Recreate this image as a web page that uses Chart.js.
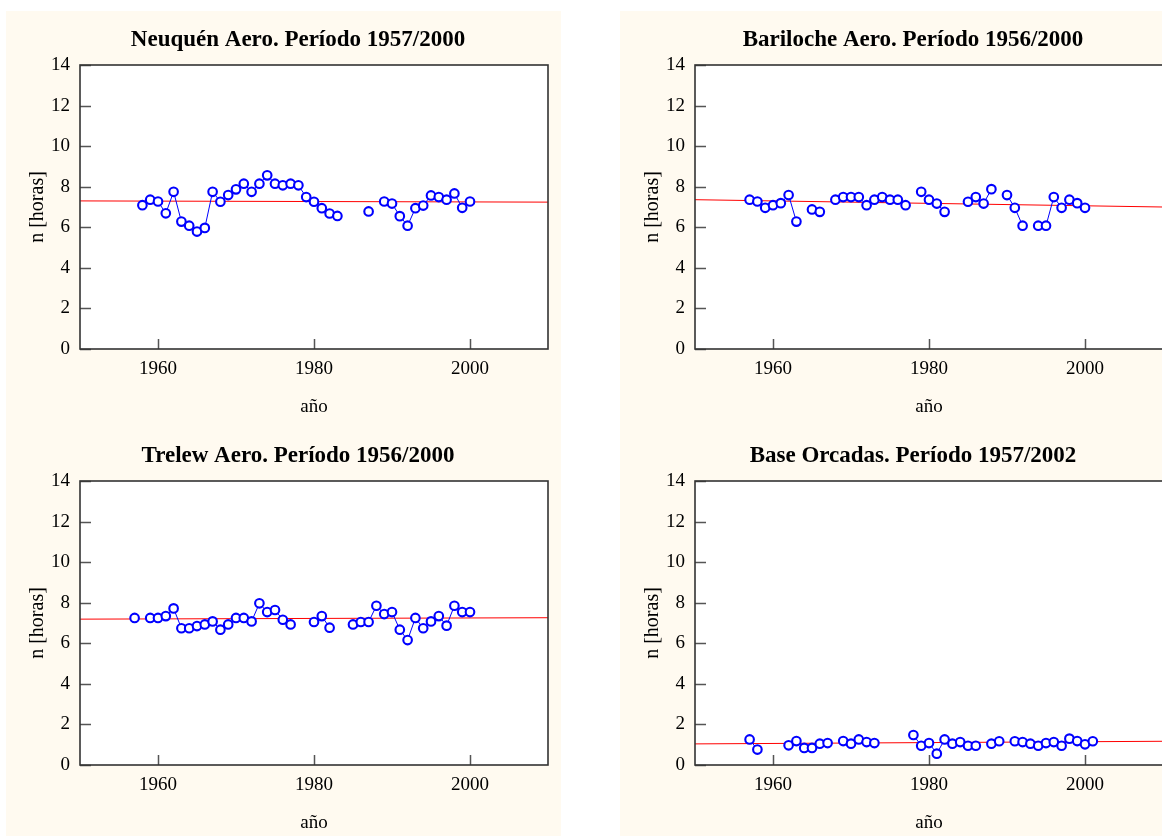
<!DOCTYPE html>
<html>
<head>
<meta charset="utf-8">
<script src="https://cdn.jsdelivr.net/npm/chart.js@4.4.1/dist/chart.umd.min.js"></script>
<style>
  html, body { margin: 0; padding: 0; background: #ffffff; overflow: hidden; }
  body { width: 1162px; height: 837px; position: relative; }
  .cream { position: absolute; background: #fffaf0; top: 11px; height: 825px; }
  canvas { position: absolute; }
</style>
</head>
<body>
<div class="cream" style="left:6px;width:555px"></div>
<div class="cream" style="left:620px;width:542px"></div>
<canvas id="c_neuquen" width="555" height="412" style="left:6px;top:11px"></canvas>
<canvas id="c_bariloche" width="555" height="412" style="left:621px;top:11px"></canvas>
<canvas id="c_trelew" width="555" height="412" style="left:6px;top:427px"></canvas>
<canvas id="c_orcadas" width="555" height="412" style="left:621px;top:427px"></canvas>
<script>
// datos (null = año sin dato, corta la linea)
const neuquenYears = [1958,1959,1960,1961,1962,1963,1964,1965,1966,1967,1968,1969,1970,1971,1972,1973,1974,1975,1976,1977,1978,1979,1980,1981,1982,1983,1985,1987,1988,1989,1990,1991,1992,1993,1994,1995,1996,1997,1998,1999,2000];
const neuquenHours = [7.09,7.36,7.27,6.69,7.75,6.28,6.08,5.79,5.97,7.75,7.26,7.59,7.87,8.15,7.75,8.15,8.56,8.15,8.07,8.15,8.07,7.49,7.26,6.94,6.68,6.56,null,6.78,null,7.27,7.17,6.55,6.08,6.94,7.07,7.57,7.49,7.36,7.67,6.96,7.27];

const barilocheYears = [1957,1958,1959,1960,1961,1962,1963,1964,1965,1966,1967,1968,1969,1970,1971,1972,1973,1974,1975,1976,1977,1978,1979,1980,1981,1982,1983,1985,1986,1987,1988,1989,1990,1991,1992,1993,1994,1995,1996,1997,1998,1999,2000];
const barilocheHours = [7.36,7.27,6.96,7.09,7.19,7.59,6.28,null,6.88,6.76,null,7.36,7.49,7.49,7.49,7.09,7.36,7.49,7.36,7.36,7.09,null,7.75,7.36,7.17,6.76,null,7.26,7.49,7.17,7.88,null,7.59,6.96,6.08,null,6.08,6.08,7.49,6.96,7.36,7.19,6.96];

const trelewYears = [1957,1958,1959,1960,1961,1962,1963,1964,1965,1966,1967,1968,1969,1970,1971,1972,1973,1974,1975,1976,1977,1978,1980,1981,1982,1983,1985,1986,1987,1988,1989,1990,1991,1992,1993,1994,1995,1996,1997,1998,1999,2000];
const trelewHours = [7.25,null,7.25,7.25,7.34,7.72,6.74,6.74,6.85,6.93,7.08,6.67,6.93,7.25,7.25,7.08,7.97,7.54,7.64,7.16,6.93,null,7.05,7.34,6.77,null,6.93,7.05,7.05,7.85,7.44,7.54,6.67,6.16,7.25,6.74,7.08,7.34,6.87,7.85,7.54,7.54];

const orcadasYears = [1957,1958,1959,1962,1963,1964,1965,1966,1967,1968,1969,1970,1971,1972,1973,1974,1978,1979,1980,1981,1982,1983,1984,1985,1986,1987,1988,1989,1990,1991,1992,1993,1994,1995,1996,1997,1998,1999,2000,2001];
const orcadasHours = [1.26,0.76,null,0.97,1.18,0.84,0.84,1.05,1.08,null,1.18,1.05,1.26,1.13,1.08,null,1.48,0.95,1.08,0.56,1.26,1.05,1.13,0.95,0.95,null,1.05,1.17,null,1.17,1.13,1.05,0.95,1.08,1.13,0.95,1.30,1.18,1.02,1.17];

// recta de tendencia (extremos del eje)
const trendYears = [1950, 2010];
const neuquenTrend = [7.30, 7.24];
const barilocheTrend = [7.36, 7.00];
const trelewTrend = [7.19, 7.26];
const orcadasTrend = [1.04, 1.17];

const xTicks = [1960, 1980, 2000];
const yTicks = [0, 2, 4, 6, 8, 10, 12, 14];

const FONT = "'Liberation Serif', 'Times New Roman', serif";

const panelPlugin = {
  id: 'panel',
  beforeDraw(chart) {
    const {ctx, chartArea: a} = chart;
    ctx.save();
    ctx.fillStyle = '#ffffff';
    ctx.fillRect(a.left, a.top, a.right - a.left, a.bottom - a.top);
    ctx.restore();
  },
  afterDraw(chart, args, opts) {
    const {ctx, chartArea: a, scales} = chart;
    ctx.save();
    // marcas hacia adentro
    ctx.strokeStyle = '#555555';
    ctx.lineWidth = 1.5;
    ctx.beginPath();
    scales.y.ticks.forEach(t => {
      const py = Math.round(scales.y.getPixelForValue(t.value)) + 0.5;
      ctx.moveTo(a.left, py); ctx.lineTo(a.left + 11, py);
    });
    scales.x.ticks.forEach(t => {
      const px = Math.round(scales.x.getPixelForValue(t.value)) + 0.5;
      ctx.moveTo(px, a.bottom); ctx.lineTo(px, a.bottom - 10);
    });
    ctx.stroke();
    // marco
    ctx.strokeStyle = '#333333';
    ctx.lineWidth = 1.6;
    ctx.strokeRect(a.left, a.top, a.right - a.left, a.bottom - a.top);
    // titulo
    ctx.fillStyle = '#000000';
    ctx.font = 'bold 23px ' + FONT;
    ctx.textAlign = 'center';
    ctx.textBaseline = 'middle';
    ctx.fillText(opts.text, (a.left + a.right) / 2 - 16, a.top - 25);
    ctx.restore();
  }
};

function points(xs, ys) {
  return xs.map((x, i) => ({x: x, y: ys[i]}));
}

function makeChart(id, title, years, hours, trend) {
  new Chart(document.getElementById(id), {
    type: 'line',
    data: {
      datasets: [
        {
          data: points(years, hours),
          borderColor: '#0000ff',
          borderWidth: 1,
          pointRadius: 4.3,
          pointBorderWidth: 2.1,
          pointBorderColor: '#0000ff',
          pointBackgroundColor: '#ffffff',
          spanGaps: false,
          tension: 0,
          order: 1
        },
        {
          data: points(trendYears, trend),
          borderColor: '#ff0000',
          borderWidth: 1,
          pointRadius: 0,
          tension: 0,
          order: 2
        }
      ]
    },
    options: {
      responsive: false,
      animation: false,
      events: [],
      clip: false,
      layout: {padding: {top: 54, right: 13, left: 0, bottom: 0}},
      plugins: {
        legend: {display: false},
        tooltip: {enabled: false},
        title: {display: false},
        panel: {text: title}
      },
      scales: {
        x: {
          type: 'linear',
          min: 1950,
          max: 2010,
          afterFit: s => { s.height = 74; },
          afterBuildTicks: s => { s.ticks = xTicks.map(v => ({value: v})); },
          grid: {display: false, drawTicks: false},
          border: {display: false},
          ticks: {
            padding: 9,
            color: '#000',
            font: {family: FONT, size: 19},
            callback: v => String(v)
          },
          title: {
            display: true,
            text: 'año',
            color: '#000',
            font: {family: FONT, size: 19},
            padding: {top: 0, bottom: 5}
          }
        },
        y: {
          min: 0,
          max: 14,
          afterFit: s => { s.width = 74; },
          afterBuildTicks: s => { s.ticks = yTicks.map(v => ({value: v})); },
          grid: {display: false, drawTicks: false},
          border: {display: false},
          ticks: {
            padding: 10,
            color: '#000',
            font: {family: FONT, size: 19}
          },
          title: {
            display: true,
            text: 'n [horas]',
            color: '#000',
            font: {family: FONT, size: 20},
            padding: {top: 20, bottom: 0}
          }
        }
      }
    },
    plugins: [panelPlugin]
  });
}

makeChart('c_neuquen', 'Neuquén Aero. Período 1957/2000', neuquenYears, neuquenHours, neuquenTrend);
makeChart('c_bariloche', 'Bariloche Aero. Período 1956/2000', barilocheYears, barilocheHours, barilocheTrend);
makeChart('c_trelew', 'Trelew Aero. Período 1956/2000', trelewYears, trelewHours, trelewTrend);
makeChart('c_orcadas', 'Base Orcadas. Período 1957/2002', orcadasYears, orcadasHours, orcadasTrend);
</script>
</body>
</html>
